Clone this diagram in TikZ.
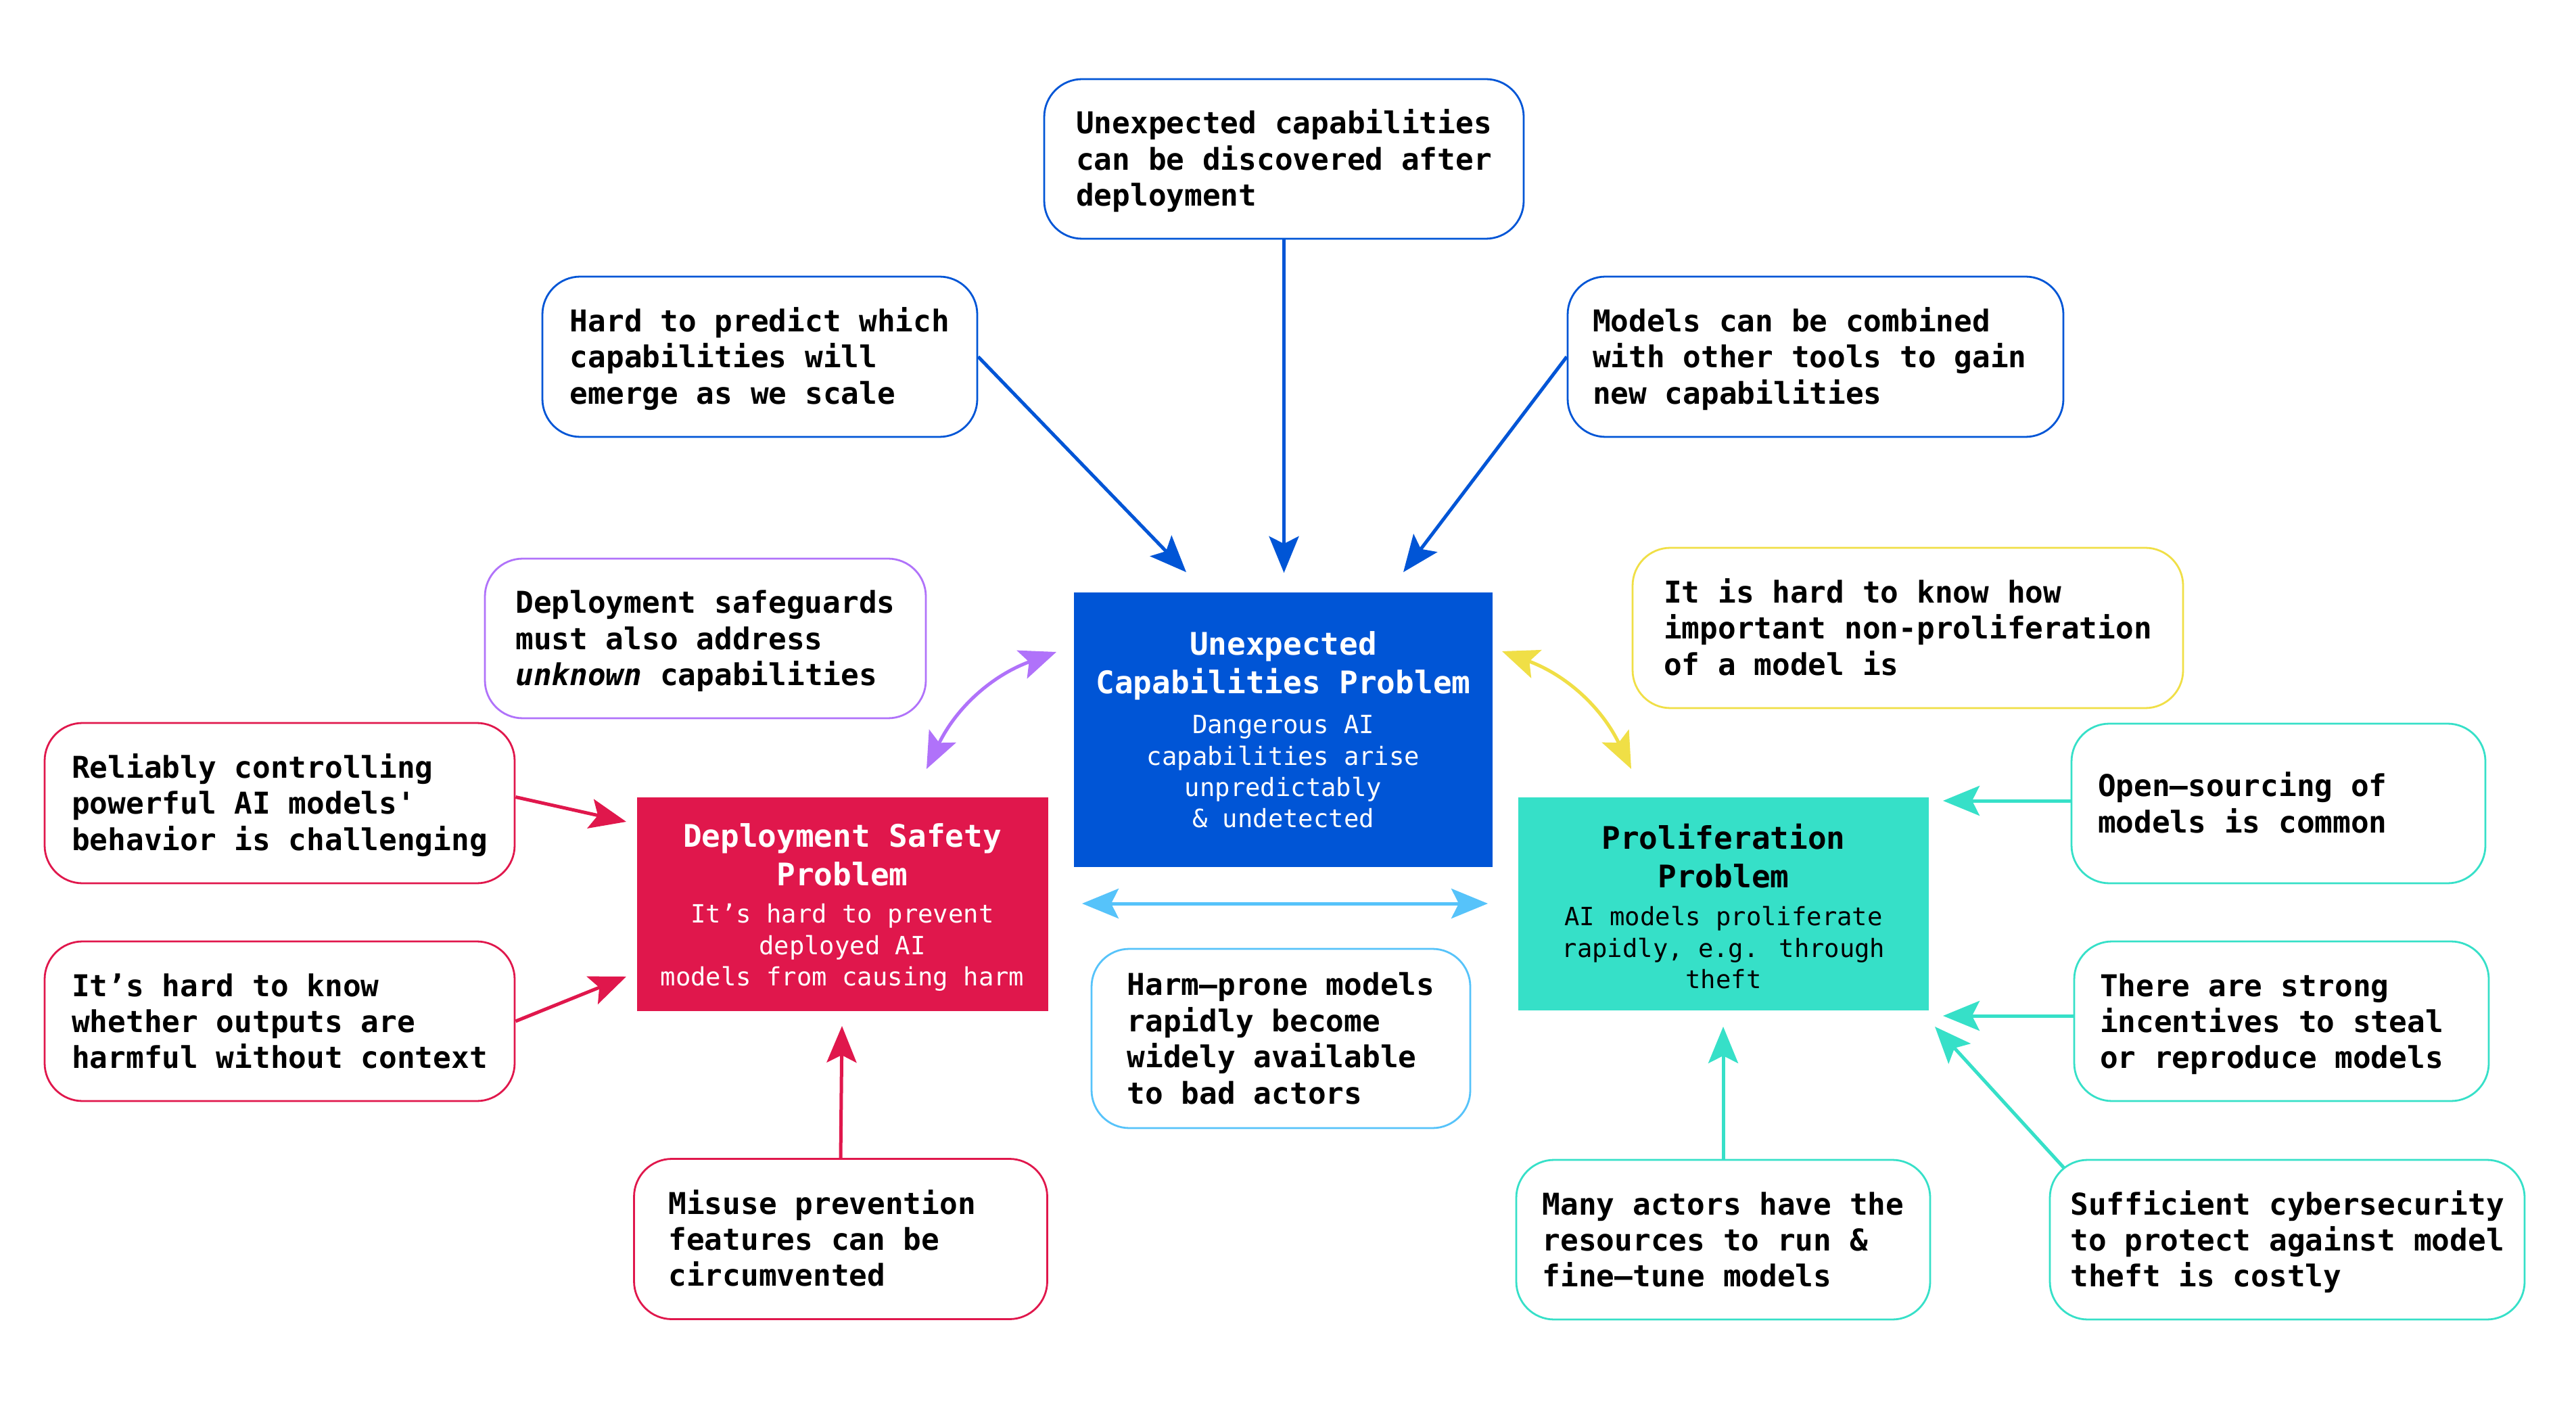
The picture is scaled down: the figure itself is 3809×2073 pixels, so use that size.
\documentclass[tikz,border=0pt]{standalone}
\usepackage{fontspec}
\newfontfamily\mono{DejaVu Sans Mono}
\usetikzlibrary{arrows.meta,calc}
\definecolor{cblue}{HTML}{0055D6}
\definecolor{cred}{HTML}{E0174C}
\definecolor{cteal}{HTML}{36E0C8}
\definecolor{cpurple}{HTML}{B072FA}
\definecolor{cyellow}{HTML}{F0DF46}
\definecolor{clblue}{HTML}{56C3FA}
\newcommand\bxT{\spaceskip=0pt\xspaceskip=0pt\relax\rule{0pt}{10.9pt}}
\newcommand\bxB{\rule[-2.7pt]{0pt}{2.7pt}}
\begin{document}
\begin{tikzpicture}[x=0.25pt,y=-0.25pt,
  obox/.style={draw=#1, line width=0.7pt, rounded corners=14pt, align=left, inner sep=0pt,
    font=\mono\bfseries\fontsize{11.1pt}{13.35pt}\selectfont, text=black},
  cbox/.style={fill=#1, draw=none, inner sep=0pt},
  ttl/.style={anchor=north, align=center, inner sep=0pt,
    font=\mono\bfseries\fontsize{11.5pt}{14.2pt}\selectfont},
  subt/.style={anchor=north, align=center, inner sep=0pt,
    font=\mono\fontsize{9.3pt}{11.575pt}\selectfont},
  tip/.tip={Stealth[length=13.5pt,width=11pt,inset=2.75pt]},
  arr/.style={draw=#1, line width=1.25pt, -tip},
  darr/.style={draw=#1, line width=1.25pt, tip-tip},
]
\fill[white] (0,0) rectangle (3809,2073);
\useasboundingbox (0,0) rectangle (3809,2073);

% central boxes
\node[cbox=cblue, minimum width=154.75pt, minimum height=101.5pt] (blue) at (1897.5,1079) {};
\node[ttl, text=white] (blueT) at (1897.5,928) {\rule{0pt}{10pt}Unexpected\\Capabilities Problem};
\node[subt, text=white] (blueS) at (1897.5,1048) {\rule{0pt}{9pt}Dangerous AI\\capabilities arise\\unpredictably\\\& undetected};

\node[cbox=cred, minimum width=152pt, minimum height=79pt] (red) at (1245.5,1337) {};
\node[ttl, text=white] (redT) at (1245.5,1212) {\rule{0pt}{10pt}Deployment Safety\\Problem};
\node[subt, text=white] (redS) at (1245.5,1328) {\rule{0pt}{9pt}It’s hard to prevent\\deployed AI\\models from causing harm};

\node[cbox=cteal, minimum width=151.75pt, minimum height=78.75pt] (teal) at (2548.5,1336.5) {};
\node[ttl, text=black] (tealT) at (2548.5,1215) {\rule{0pt}{10pt}Proliferation\\Problem};
\node[subt, text=black] (tealS) at (2548.5,1332) {\rule{0pt}{9pt}AI models proliferate\\rapidly, e.g. through\\theft};

% outer boxes
\node[obox=cblue, minimum width=177.25pt, minimum height=59pt] (top) at (1898.5,235)
  {\bxT Unexpected capabilities\\can be discovered after\\deployment\bxB};
\node[obox=cblue, minimum width=160.75pt, minimum height=59.25pt] (hard) at (1123.5,527.5)
  {\bxT Hard to predict which\\capabilities will\\emerge as we scale\bxB};
\node[obox=cblue, minimum width=183.25pt, minimum height=59.25pt, text width=164.75pt] (models) at (2684.5,527.5)
  {\bxT Models can be combined\\with other tools to gain\\new capabilities\bxB};
\node[obox=cpurple, minimum width=163pt, minimum height=59pt] (safeg) at (1043,944)
  {\bxT Deployment safeguards\\must also address\\{\itshape unknown} capabilities\bxB};
\node[obox=cyellow, minimum width=203.5pt, minimum height=59.25pt] (nonprol) at (2821,928.5)
  {\bxT It is hard to know how\\important non-proliferation\\of a model is\bxB};
\node[obox=cred, minimum width=173.75pt, minimum height=59.25pt] (reliably) at (413.5,1187.5)
  {\bxT Reliably controlling\\powerful AI models\textquotesingle\\behavior is challenging\bxB};
\node[obox=cred, minimum width=173.75pt, minimum height=59pt] (itshard) at (413.5,1510)
  {\bxT It’s hard to know\\whether outputs are\\harmful without context\bxB};
\node[obox=cred, minimum width=152.75pt, minimum height=59.25pt, text width=127.25pt] (misuse) at (1243,1832)
  {\bxT Misuse prevention\\features can be\\circumvented\bxB};
\node[obox=clblue, minimum width=140pt, minimum height=66.25pt] (harm) at (1894,1535.5)
  {\bxT Harm–prone models\\rapidly become\\widely available\\to bad actors\bxB};
\node[obox=cteal, minimum width=153pt, minimum height=59pt, text width=133.5pt] (open) at (3369,1188)
  {\bxT Open–sourcing of\\models is common\bxB};
\node[obox=cteal, minimum width=153.25pt, minimum height=59pt, text width=134.25pt] (strong) at (3373.5,1510)
  {\bxT There are strong\\incentives to steal\\or reproduce models\bxB};
\node[obox=cteal, minimum width=175.5pt, minimum height=59pt] (cyber) at (3382,1833)
  {\bxT Sufficient cybersecurity\\to protect against model\\theft is costly\bxB};
\node[obox=cteal, minimum width=153pt, minimum height=59pt] (many) at (2548,1833)
  {\bxT Many actors have the\\resources to run \&\\fine–tune models\bxB};

% arrow end points
\coordinate (topT) at (1898.5,847);
\coordinate (hardT) at (1754,846);
\coordinate (modT) at (2075,846);
\coordinate (pA) at (1370,1137);
\coordinate (pB) at (1562,964);
\coordinate (yA) at (2412,1137);
\coordinate (yB) at (2221,963);
\coordinate (lbA) at (1600,1336);
\coordinate (lbB) at (2200,1336);
\coordinate (relT) at (926,1215);
\coordinate (ithT) at (926,1444);
\coordinate (misT) at (1245,1517);
\coordinate (openT) at (2873,1184);
\coordinate (strT) at (2873,1502);
\coordinate (cybS) at (3052,1727);
\coordinate (cybT) at (2861,1518);
\coordinate (manyT) at (2548,1518);

% connectors
\draw[arr=cblue] (top.south) -- (topT);
\draw[arr=cblue] (hard.east) -- (hardT);
\draw[arr=cblue] (models.west) -- (modT);
\draw[darr=cpurple] (pA) to[bend left=22] (pB);
\draw[darr=cyellow] (yA) to[bend right=22] (yB);
\draw[darr=clblue] (lbA) -- (lbB);
\draw[arr=cred] ($(reliably.east)+(0,-9)$) -- (relT);
\draw[arr=cred] (itshard.east) -- (ithT);
\draw[arr=cred] (misuse.north) -- (misT);
\draw[arr=cteal] (open.west |- openT) -- (openT);
\draw[arr=cteal] (strong.west |- strT) -- (strT);
\draw[arr=cteal] (cybS) -- (cybT);
\draw[arr=cteal] (many.north) -- (manyT);
\end{tikzpicture}
\end{document}
